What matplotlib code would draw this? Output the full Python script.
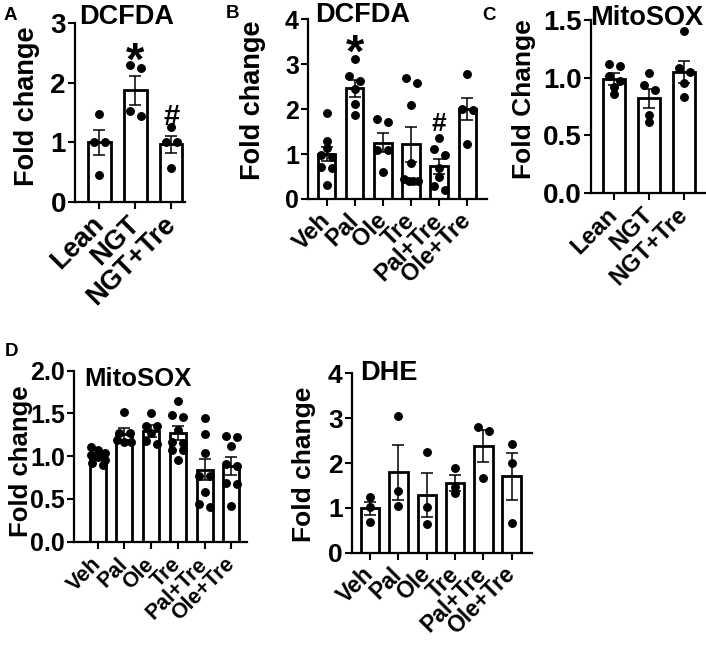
import matplotlib
matplotlib.use('Agg')
from matplotlib import pyplot as plt

plt.rcParams['font.family'] = ['Liberation Sans', 'DejaVu Sans']
plt.rcParams['font.weight'] = 'bold'

# ---- data ----
a_groups = ['Lean', 'NGT', 'NGT+Tre']
a_mean = [1.0, 1.87, 0.97]
a_sem = [0.21, 0.24, 0.14]
a_points = [[1.48, 1.0, 1.0, 0.45],
            [2.30, 2.24, 1.52, 1.44],
            [1.25, 1.01, 1.01, 0.58]]

b_groups = ['Veh', 'Pal', 'Ole', 'Tre', 'Pal+Tre', 'Ole+Tre']
b_mean = [1.0, 2.46, 1.25, 1.22, 0.73, 2.0]
b_sem = [0.16, 0.18, 0.21, 0.39, 0.17, 0.24]
b_points = [[1.92, 1.28, 1.14, 0.98, 0.94, 0.72, 0.69, 0.31],
            [3.12, 2.74, 2.63, 2.45, 2.12, 1.87],
            [1.78, 1.71, 1.10, 1.10, 0.59],
            [2.70, 2.58, 2.10, 0.81, 0.44, 0.40, 0.40, 0.40],
            [1.36, 1.11, 0.99, 0.70, 0.49, 0.28, 0.21],
            [2.78, 2.00, 1.97, 1.22]]

c_groups = ['Lean', 'NGT', 'NGT+Tre']
c_mean = [0.99, 0.82, 1.05]
c_sem = [0.05, 0.08, 0.095]
c_points = [[1.12, 1.10, 1.01, 0.97, 0.92, 0.86],
            [1.04, 0.94, 0.89, 0.68, 0.62],
            [1.40, 1.08, 1.05, 0.95, 0.83]]

d_groups = ['Veh', 'Pal', 'Ole', 'Tre', 'Pal+Tre', 'Ole+Tre']
d_mean = [1.0, 1.26, 1.29, 1.27, 0.84, 0.885]
d_sem = [0.03, 0.07, 0.07, 0.08, 0.125, 0.10]
d_points = [[1.11, 1.07, 1.04, 1.01, 0.99, 0.95, 0.92, 0.90],
            [1.52, 1.27, 1.27, 1.19, 1.17, 1.17],
            [1.50, 1.35, 1.35, 1.27, 1.18, 1.14],
            [1.64, 1.48, 1.46, 1.31, 1.17, 1.15, 1.07, 1.07, 0.96],
            [1.44, 1.26, 1.04, 0.77, 0.77, 0.58, 0.44, 0.41],
            [1.24, 1.22, 1.12, 0.91, 0.88, 0.68, 0.67, 0.42]]

e_groups = ['Veh', 'Pal', 'Ole', 'Tre', 'Pal+Tre', 'Ole+Tre']
e_mean = [0.99, 1.79, 1.29, 1.55, 2.38, 1.70]
e_sem = [0.15, 0.62, 0.49, 0.18, 0.36, 0.53]
e_points = [[1.25, 1.03, 0.69],
            [3.05, 1.38, 1.04],
            [2.25, 1.03, 0.63],
            [1.88, 1.47, 1.32],
            [2.80, 2.71, 1.66],
            [2.42, 2.01, 0.67]]

W, H = 706, 646
fig = plt.figure(figsize=(W / 100, H / 100), dpi=100)


def fx(x):
    return x / W


def fy(y):
    return 1 - y / H


def swarm(vals, ypx, dot=6.0, step=11.0, span=14.0):
    # group dots that would overlap into rows and centre each row
    order = sorted(range(len(vals)), key=lambda i: -vals[i])
    offs = [0.0] * len(vals)
    rows, cur = [], [order[0]]
    for i in order[1:]:
        if (vals[cur[0]] - vals[i]) * ypx < dot:
            cur.append(i)
        else:
            rows.append(cur)
            cur = [i]
    rows.append(cur)
    for row in rows:
        n = len(row)
        if n == 1:
            continue
        s = min(step, span / (n - 1))
        for k, i in enumerate(row):
            offs[i] = (k - (n - 1) / 2) * s
    return offs


def panel(box, groups, mean, sem, points, ylim, yticks, yfmt, xlim,
          tick_fs, xlab_fs, bar_w=0.62, xpad=8):
    l, r, t, b = box
    ax = fig.add_axes([fx(l), fy(b), fx(r - l), (b - t) / H])
    x = list(range(len(groups)))
    ax.bar(x, mean, width=bar_w, color='white', edgecolor='black',
           linewidth=2.0, zorder=2)
    ax.errorbar(x, mean, yerr=sem, fmt='none', ecolor='black',
                elinewidth=1.1, capsize=4.2, capthick=1.1, zorder=3)
    ypx = (b - t) / (ylim[1] - ylim[0])
    xpx = (r - l) / (xlim[1] - xlim[0])
    for xi, vals in zip(x, points):
        offs = swarm(vals, ypx)
        ax.plot([xi + o / xpx for o in offs], vals, 'o', color='black',
                ms=5.4, zorder=4, clip_on=False)
    ax.set_xlim(*xlim)
    ax.set_ylim(*ylim)
    ax.set_yticks(yticks, [yfmt.format(v) for v in yticks])
    ax.set_xticks(x, groups, rotation=45, ha='right', va='center',
                  rotation_mode='anchor', fontsize=xlab_fs)
    ax.tick_params(axis='y', labelsize=tick_fs, width=1.5, length=5, pad=1.5)
    ax.tick_params(axis='x', width=1.5, length=5, pad=xpad)
    for s in ['top', 'right']:
        ax.spines[s].set_visible(False)
    for s in ['left', 'bottom']:
        ax.spines[s].set_linewidth(1.6)
    return ax


def mark(ax, x, y, s, fs, drop):
    ax.annotate(s, xy=(x, y), xytext=(0, -drop * fs), textcoords='offset points',
                ha='center', va='baseline', fontsize=fs, fontweight='bold')


def ftext(x, y, s, fs, **kw):
    fig.text(fx(x), fy(y), s, fontsize=fs, fontweight='bold',
             ha=kw.pop('ha', 'center'), va=kw.pop('va', 'center'), **kw)


# A
ax_a = panel((75, 185, 22.7, 202.3), a_groups, a_mean, a_sem, a_points,
             (0, 3), [0, 1, 2, 3], '{:d}', (-0.68, 2.38), 20, 19.5)
mark(ax_a, 1, 2.56, '*', 34, 0.55)
mark(ax_a, 2, 1.46, '#', 21, 0.36)
ftext(127, 17.5, 'DCFDA', 19.5)
ftext(27, 106, 'Fold change', 19.5, rotation=90)
ftext(10, 16, 'A', 13.5)

# B
ax_b = panel((308, 487, 19.3, 199), b_groups, b_mean, b_sem, b_points,
             (0, 4), [0, 1, 2, 3, 4], '{:d}', (-0.66, 5.7), 18, 17)
mark(ax_b, 1, 3.53, '*', 34, 0.55)
mark(ax_b, 4, 1.72, '#', 19, 0.36)
ftext(363, 15, 'DCFDA', 19.5)
ftext(253, 100, 'Fold change', 19.5, rotation=90)
ftext(232, 13, 'B', 13.5)

# C
ax_c = panel((590.7, 705, 19.7, 193.3), c_groups, c_mean, c_sem, c_points,
             (0, 1.5), [0, 0.5, 1.0, 1.5], '{:.1f}', (-0.67, 2.6), 20, 17)
ftext(647, 18, 'MitoSOX', 19.5)
ftext(524, 99, 'Fold Change', 19, rotation=90)
ftext(489, 15, 'C', 13.5)

# D left
ax_d = panel((74, 246.7, 370.5, 541.7), d_groups, d_mean, d_sem, d_points,
             (0, 2.0), [0, 0.5, 1.0, 1.5, 2.0], '{:.1f}', (-0.89, 5.58), 18, 15.5,
             bar_w=0.6, xpad=9)
ftext(138, 379, 'MitoSOX', 18.5)
ftext(21, 461, 'Fold change', 18.5, rotation=90)
ftext(11, 352, 'D', 13.5)

# D right
ax_e = panel((351.7, 531.7, 373.3, 552.7), e_groups, e_mean, e_sem, e_points,
             (0, 4), [0, 1, 2, 3, 4], '{:d}', (-0.65, 5.71), 19, 16.5,
             bar_w=0.65, xpad=8)
ftext(389, 373, 'DHE', 19.5)
ftext(304, 464, 'Fold change', 19, rotation=90)

fig.savefig('out.png', dpi=100)
